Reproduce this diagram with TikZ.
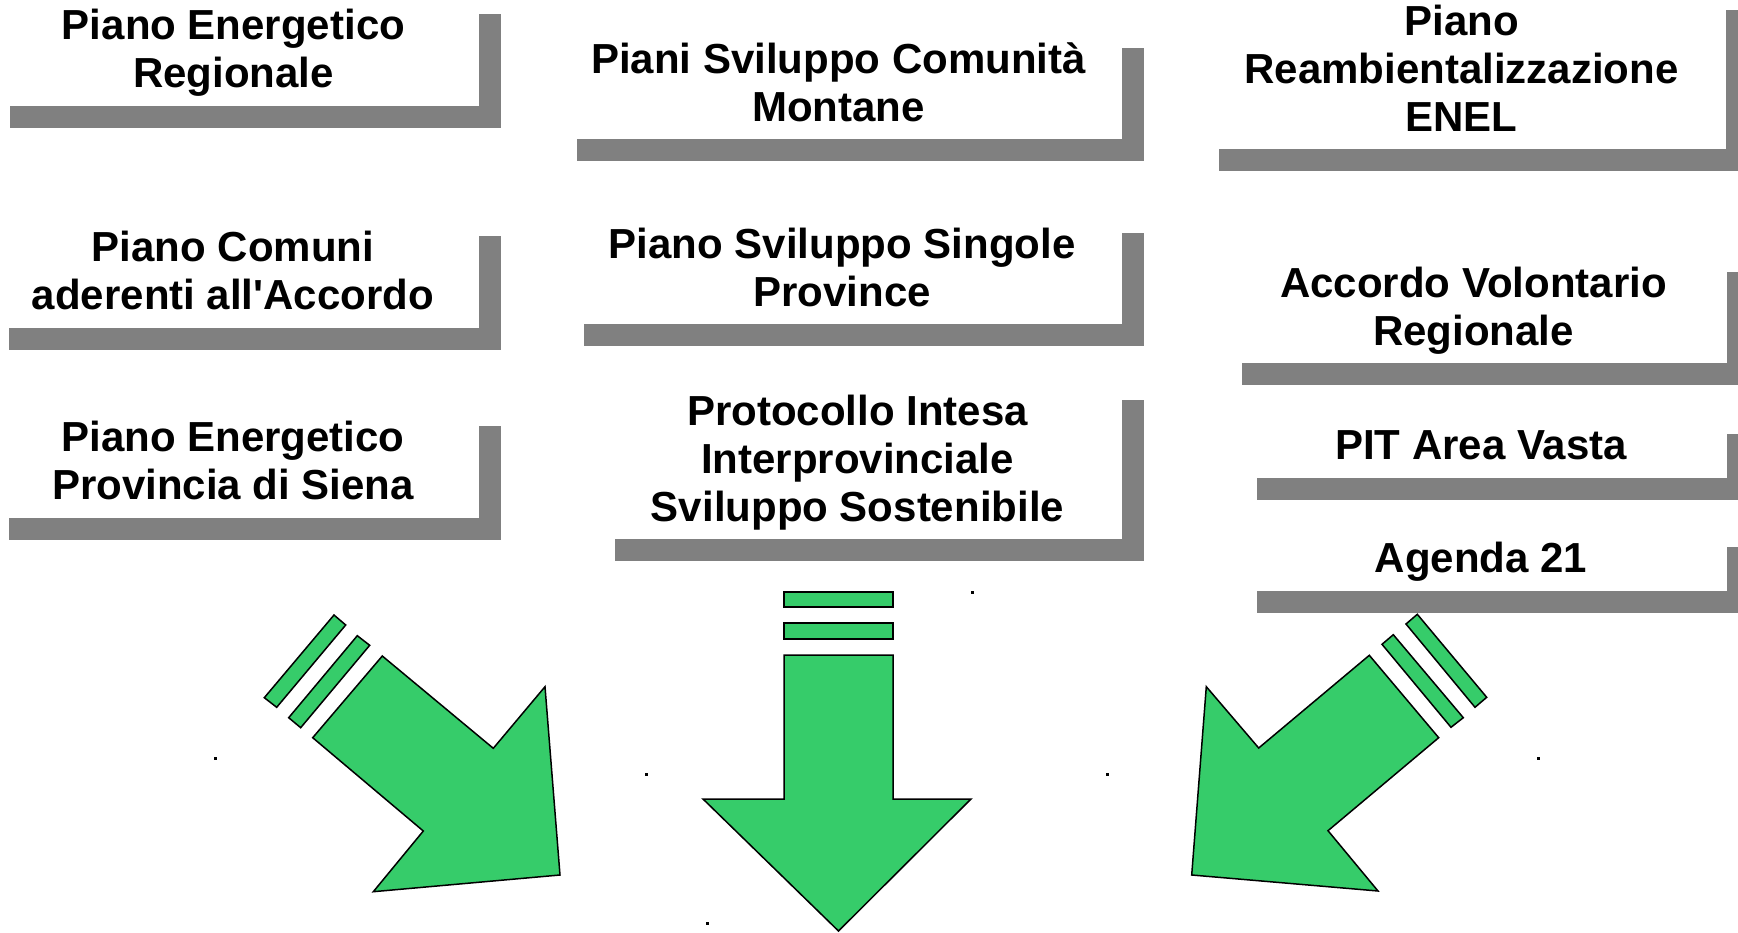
\documentclass[tikz,border=0pt]{standalone}
\usepackage{fontspec}
\setmainfont{Liberation Sans}
\usetikzlibrary{shadows}
\definecolor{verdefreccia}{RGB}{54,204,106}
\definecolor{ombra}{RGB}{128,128,128}
\newcommand\txtstrut{\rule[-0.212em]{0pt}{1.117em}}

\begin{document}
\begin{tikzpicture}[x=1pt,y=-1pt,
    piano/.style={rectangle, fill=white, inner sep=0pt, align=center,
        font=\fontsize{42}{48}\selectfont\bfseries,
        execute at end node=\txtstrut,
        drop shadow={shadow xshift=22pt, shadow yshift=-22pt, fill=ombra, opacity=1}},
    freccia/.style={draw=black, fill=verdefreccia, line width=1.5pt}]
    \useasboundingbox (0,0) rectangle (1738,933);

    \draw
    (233.5,49)node[piano, minimum width=491pt, minimum height=114pt](per){\txtstrut Piano Energetico\\Regionale}
    (233,271)node[piano, minimum width=492pt, minimum height=114pt](pca){\txtstrut Piano Comuni\\aderenti all\textquotesingle Accordo}
    (233,461)node[piano, minimum width=492pt, minimum height=114pt](peps){\txtstrut Piano Energetico\\Provincia di Siena}

    (838.5,82.5)node[piano, minimum width=567pt, minimum height=113pt](pscm){\txtstrut Piani Sviluppo Comunità\\Montane}
    (842,267.5)node[piano, minimum width=560pt, minimum height=113pt](pssp){\txtstrut Piano Sviluppo Singole\\Province}
    (857.5,458.5)node[piano, minimum width=529pt, minimum height=161pt](pii){\txtstrut Protocollo Intesa\\Interprovinciale\\Sviluppo Sostenibile}

    (1461.5,68.5)node[piano, minimum width=529pt, minimum height=161pt](pre){\txtstrut Piano\\Reambientalizzazione\\ENEL}
    (1473.5,306.5)node[piano, minimum width=507pt, minimum height=113pt](avr){\txtstrut Accordo Volontario\\Regionale}
    (1481,445)node[piano, minimum width=492pt, minimum height=66pt](pit){\txtstrut PIT Area Vasta}
    (1481,558)node[piano, minimum width=492pt, minimum height=66pt](ag21){\txtstrut Agenda 21}
    ;

    \draw[freccia] (334,615) -- (345.7,625) -- (276.7,707.3) -- (264.3,697.7) -- cycle;
    \draw[freccia] (357.3,635.7) -- (369.7,645.3) -- (300.7,727.7) -- (288.7,717.7) -- cycle;
    \draw[freccia] (382.3,656) -- (493.3,748.3) -- (545,686.7) -- (560,875) -- (373.3,891.7) -- (423.3,831) -- (312.7,737.7) -- cycle;

    \draw[freccia] (784,592) rectangle (893,607);
    \draw[freccia] (784,623) rectangle (893,639);
    \draw[freccia] (784,655) -- (893,655) -- (893,799) -- (971,799) -- (838.5,931) -- (703,799) -- (784,799) -- cycle;

    \draw[freccia] (1417.3,614.3) -- (1486.7,697.3) -- (1475,707.3) -- (1406,624) -- cycle;
    \draw[freccia] (1393.3,634.7) -- (1463.3,717.7) -- (1451,727.3) -- (1382,644.3) -- cycle;
    \draw[freccia] (1369.3,655.3) -- (1438.7,737.7) -- (1328,830.7) -- (1378,891) -- (1191.7,875) -- (1206.3,686.7) -- (1258.7,748) -- cycle;

    \foreach \x/\y in {971/591, 214/757, 645/773, 1106/773, 1537/757, 706/922}
        \fill (\x,\y) rectangle ++(2.5,2.5);
\end{tikzpicture}
\end{document}
